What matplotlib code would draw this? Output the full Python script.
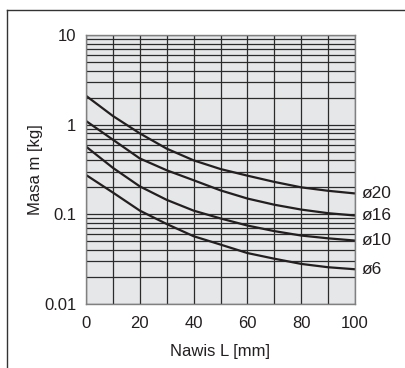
import numpy as np
import matplotlib
matplotlib.use("Agg")
import matplotlib.pyplot as plt
from matplotlib.lines import Line2D
from matplotlib.ticker import LogLocator, MultipleLocator, FixedLocator

plt.rcParams['font.family'] = ['Liberation Sans', 'DejaVu Sans']

# overhang L [mm]
overhang = [0, 10, 20, 30, 40, 50, 60, 70, 80, 90, 100]

# mass m [kg] per bore size
m_d20 = [2.1, 1.25, 0.80, 0.54, 0.40, 0.32, 0.27, 0.23, 0.20, 0.183, 0.171]
m_d16 = [1.1, 0.68, 0.42, 0.31, 0.24, 0.185, 0.15, 0.128, 0.113, 0.103, 0.097]
m_d10 = [0.57, 0.33, 0.205, 0.145, 0.11, 0.09, 0.075, 0.065, 0.058, 0.054, 0.051]
m_d6 = [0.275, 0.175, 0.11, 0.078, 0.057, 0.046, 0.037, 0.032, 0.028, 0.0257, 0.0244]

series = [m_d20, m_d16, m_d10, m_d6]
names = ["ø20", "ø16", "ø10", "ø6"]

fig = plt.figure(figsize=(4.05, 3.68), dpi=100)
ax = fig.add_axes([86/405, 1-304/368, 269/405, 269/368])
ax.set_facecolor("#e6e7e8")

ax.set_yscale("log")
ax.set_xlim(0, 100)
ax.set_ylim(0.01, 10)

# grid
ax.xaxis.set_major_locator(FixedLocator([0, 20, 40, 60, 80, 100]))
ax.xaxis.set_minor_locator(MultipleLocator(10))
ax.yaxis.set_major_locator(FixedLocator([0.01, 0.1, 1, 10]))
ax.yaxis.set_minor_locator(LogLocator(base=10, subs=np.arange(2, 10)))
ax.yaxis.set_minor_formatter(plt.NullFormatter())
ax.set_yticklabels(["0.01", "0.1", "1", "10"])
ax.grid(True, which="both", color="#2b2b2b", linewidth=0.9)
ax.set_axisbelow(True)
ax.tick_params(which="both", length=0, labelsize=12, colors="#231f20")
ax.tick_params(axis="y", pad=7)
ax.tick_params(axis="x", pad=9)
for s in ax.spines.values():
    s.set_color("#808080")
    s.set_linewidth(1.0)

for vals, nm in zip(series, names):
    ax.plot(overhang, vals, color="#231f20", lw=1.6, solid_capstyle="butt")
    ax.text(102.5, vals[-1], nm, fontsize=12.5, va="center", ha="left",
            color="#231f20", clip_on=False)

ax.set_xlabel("Nawis L [mm]", fontsize=12, color="#231f20", labelpad=9)
ax.set_ylabel("Masa m [kg]", fontsize=12, color="#231f20", labelpad=1)

# outer frame (left and top edge)
fx = 7/405
fy = 1-10/368
fig.add_artist(Line2D([fx, fx], [0, fy], transform=fig.transFigure, color="#333333", lw=1))
fig.add_artist(Line2D([fx, 1], [fy, fy], transform=fig.transFigure, color="#333333", lw=1))

fig.savefig("out.png", dpi=100)
